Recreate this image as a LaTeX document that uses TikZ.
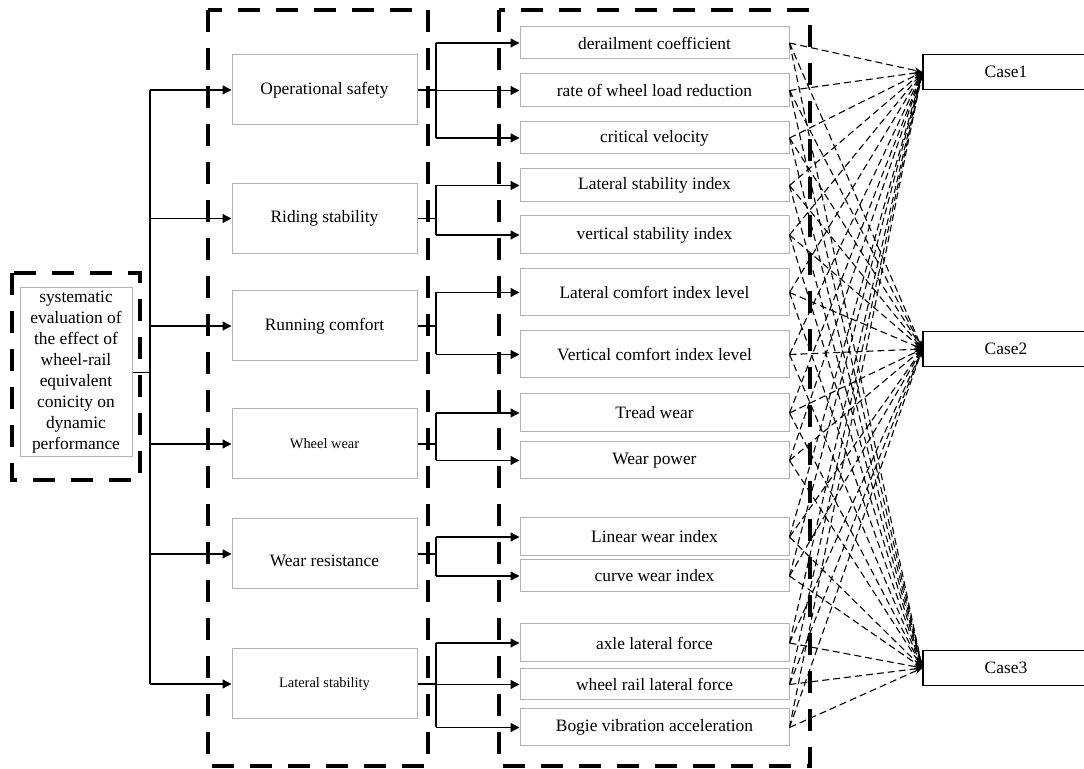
\documentclass[tikz,border=0pt]{standalone}
\usepackage{fontspec}
\setmainfont{Liberation Serif}
\usetikzlibrary{arrows.meta}
\tikzset{
	groupbox/.style={line width=1.6pt, dash pattern=on 11pt off 8pt},
	crit/.style={draw=black!30, line width=0.5pt, minimum width=92.5pt, minimum height=35pt},
	ind/.style={draw=black!30, line width=0.5pt, minimum width=134.5pt},
	casebox/.style={draw, line width=0.6pt, minimum width=83pt, minimum height=17.5pt},
	sol/.style={line width=0.65pt, -{Triangle[length=4.5pt,width=4.5pt]}},
	link/.style={line width=0.55pt, dash pattern=on 3.5pt off 2pt, -{Stealth[length=4pt,width=3pt]}},
	smallfont/.style={font=\fontsize{7.2}{9}\selectfont}
}
\begin{document}
\begin{tikzpicture}[x=0.5pt, y=-0.5pt, every node/.style={inner sep=0pt, font=\fontsize{8.7}{10.5}\selectfont}]
	\useasboundingbox (0,0) rectangle (1084,769);
	\clip (0,0) rectangle (1084,769);
	\draw[groupbox] (12,273) rectangle (140,480);
	\draw[groupbox] (208,10) rectangle (428,766);
	\draw[groupbox] (499,10) rectangle (810,766);
	\node[draw=black!30, line width=0.5pt, align=center, minimum width=56pt, minimum height=84.5pt] (goal) at (76,372.5)
		{systematic\\evaluation of\\the effect of\\wheel-rail\\equivalent\\conicity on\\dynamic\\performance};
	\node[crit] (m1) at (324.5,90) {Operational safety};
	\node[crit] (m2) at (324.5,218.5) {Riding stability};
	\node[crit] (m3) at (324.5,326) {Running comfort};
	\node[crit, smallfont] (m4) at (324.5,444) {Wheel wear};
	\node[crit] (m5) at (324.5,554) {\raisebox{-6.5pt}[0pt][0pt]{Wear resistance}};
	\node[crit, smallfont] (m6) at (324.5,684) {Lateral stability};
	\node[ind, minimum height=16pt] (d1) at (654.5,43) {derailment coefficient};
	\node[ind, minimum height=16.5pt] (d2) at (654.5,90.5) {rate of wheel load reduction};
	\node[ind, minimum height=16pt] (d3) at (654.5,138) {critical velocity};
	\node[ind, minimum height=16.5pt] (d4) at (654.5,185.5) {Lateral stability index};
	\node[ind, minimum height=19pt] (d5) at (654.5,235) {vertical stability index};
	\node[ind, minimum height=23.5pt] (d6) at (654.5,292.5) {Lateral comfort index level};
	\node[ind, minimum height=23.5pt] (d7) at (654.5,354.5) {Vertical comfort index level};
	\node[ind, minimum height=19pt] (d8) at (654.5,413) {Tread wear};
	\node[ind, minimum height=18.5pt] (d9) at (654.5,460.5) {Wear power};
	\node[ind, minimum height=19pt] (d10) at (654.5,537) {Linear wear index};
	\node[ind, minimum height=16pt] (d11) at (654.5,576) {curve wear index};
	\node[ind, minimum height=19pt] (d12) at (654.5,643) {axle lateral force};
	\node[ind, minimum height=15.5pt] (d13) at (654.5,684.5) {wheel rail lateral force};
	\node[ind, minimum height=18.5pt] (d14) at (654.5,727.5) {Bogie vibration acceleration};
	\node[casebox] (c1) at (1006,72) {Case1};
	\node[casebox] (c2) at (1006,349) {Case2};
	\node[casebox] (c3) at (1006,668) {Case3};
	\coordinate (trunk) at (150,372.5);
	\coordinate (br) at (436,0);
	\draw[line width=0.65pt] (goal.east) -- (trunk);
	\draw[line width=0.65pt] (trunk |- m1.west) -- (trunk |- m6.west);
	\foreach \m in {m1,m2,m3,m4,m5,m6}
		\draw[sol] (trunk |- \m.west) -- (\m.west);
	\foreach \m/\a/\b in {m1/d1/d3, m2/d4/d5, m3/d6/d7, m4/d8/d9, m5/d10/d11, m6/d12/d14}
		\draw[line width=0.65pt] (\m.east) -- (br |- \m.east) (br |- \a.west) -- (br |- \b.west);
	\foreach \i in {1,...,14}
		\draw[sol] (br |- d\i.west) -- (d\i.west);
	\foreach \i in {1,...,14}
		\foreach \c in {1,2,3}
			\draw[link] (d\i.east) -- (c\c.west);
\end{tikzpicture}
\end{document}
